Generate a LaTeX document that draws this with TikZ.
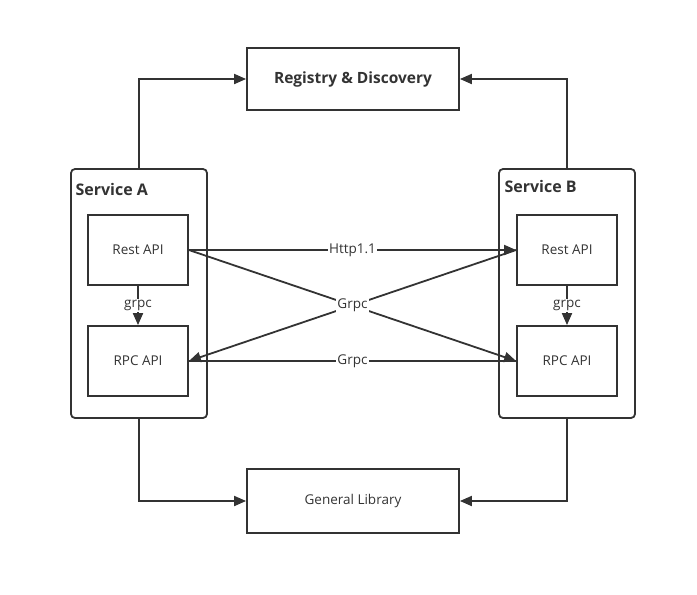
\documentclass[tikz,border=0pt]{standalone}
\usepackage{fontspec}
\setmainfont{Open Sans}
\usetikzlibrary{arrows.meta}
\definecolor{linegray}{HTML}{333333}
\begin{document}
\begin{tikzpicture}[x=1pt,y=-1pt,
    every node/.style={text=linegray},
    box/.style={draw=linegray, line width=1.8pt, minimum width=100pt, minimum height=70pt, font=\fontsize{13.5}{15}\selectfont},
    wide/.style={draw=linegray, line width=1.8pt, minimum width=212pt, font=\fontsize{13.5}{15}\selectfont},
    service/.style={draw=linegray, line width=1.8pt, rounded corners=4pt, minimum width=136pt, minimum height=249pt},
    title/.style={anchor=west, font=\fontsize{16}{18}\selectfont\bfseries},
    lbl/.style={fill=white, inner sep=1pt, font=\fontsize{13.5}{15}\selectfont},
    arrow/.style={draw=linegray, line width=1.8pt, -{Triangle[length=12pt,width=10pt]}},
    link/.style={draw=linegray, line width=1.8pt}]
    \useasboundingbox (0,0) rectangle (697,595);

    \node[wide, minimum height=62pt, font=\fontsize{15.5}{17}\selectfont\bfseries] (reg) at (353,79) {Registry \& Discovery};
    \node[wide, minimum height=64pt] (lib) at (353,501) {General Library};

    \node[service] (sa) at (139,293.5) {};
    \node[title] (salabel) at (72,189) {Service A};
    \node[box] (resta) at (138,250) {Rest API};
    \node[box] (rpca) at (138,361) {RPC API};

    \node[service] (sb) at (567,293.5) {};
    \node[title] (sblabel) at (501,186) {Service B};
    \node[box] (restb) at (567,250) {Rest API};
    \node[box] (rpcb) at (567,361) {RPC API};

    \draw[arrow] (sa.north) |- (reg.west);
    \draw[arrow] (sb.north) |- (reg.east);
    \draw[arrow] (sa.south) |- (lib.west);
    \draw[arrow] (sb.south) |- (lib.east);

    \draw[arrow] (resta) -- node[lbl] {grpc} (rpca);
    \draw[arrow] (restb) -- node[lbl] {grpc} (rpcb);

    \draw[arrow] (resta.east) -- node[lbl] {Http1.1} (restb.west);
    \draw[arrow] (resta.east) -- (rpcb.west);
    \draw[arrow] (restb.west) -- node[lbl] {Grpc} (rpca.east);
    \draw[link] (rpca.east) -- node[lbl] {Grpc} (rpcb.west);
\end{tikzpicture}
\end{document}
